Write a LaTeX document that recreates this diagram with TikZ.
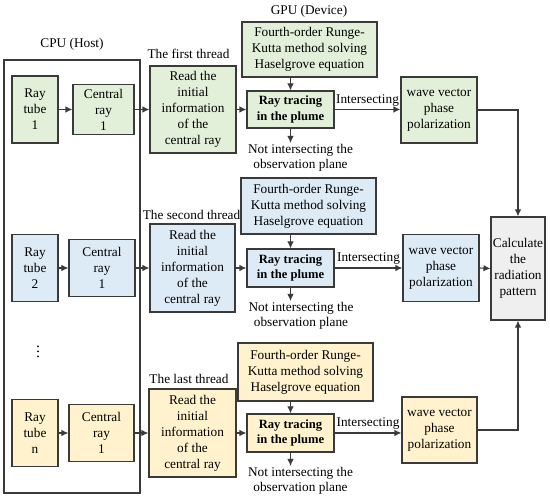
\documentclass[tikz,border=0pt]{standalone}
\usepackage{fontspec}
\setmainfont{Liberation Serif}
\usetikzlibrary{arrows.meta}
\definecolor{gfill}{HTML}{E2EFD9}
\definecolor{bfill}{HTML}{DDEBF7}
\definecolor{yfill}{HTML}{FFF2CC}
\definecolor{cfill}{HTML}{EFEFEF}
\definecolor{lc}{HTML}{3A3A3A}
\begin{document}
\begin{tikzpicture}[x=1pt,y=-1pt,
  box/.style={draw=lc, line width=1.1pt, rectangle, align=center, inner sep=1pt,
    font=\fontsize{13.3}{16}\selectfont},
  bbox/.style={box, font=\fontsize{12.6}{15.5}\selectfont\bfseries},
  arr/.style={draw=lc, line width=1.1pt, -{Latex[length=7pt,width=6.5pt]}},
  ln/.style={draw=lc, line width=1.1pt},
  lbl/.style={font=\fontsize{13.3}{15.5}\selectfont, align=center, inner sep=1pt}]
\useasboundingbox (0,0) rectangle (550,500);

% CPU box
\node[draw=lc, line width=1.1pt, minimum width=136pt, minimum height=433pt, inner sep=0pt] (cpu) at (72,276.5) {};
\node[lbl] (cputxt) at (72,44) {CPU (Host)};
\node[lbl] (gputxt) at (309,11) {GPU (Device)};
% vertical ellipsis
\foreach \yy in {346.5,351.5,356.5}{
  \fill[black] (38,\yy) circle (1pt);
}

% ---------- Row 1 (green) ----------
\node[box, fill=gfill, minimum width=46pt, minimum height=67pt] (rt1) at (35,109.5) {Ray\\tube\\1};
\node[box, fill=gfill, minimum width=61pt, minimum height=50pt] (cr1) at (103.5,109.5) {Central\\ray\\1};
\node[box, fill=gfill, minimum width=86pt, minimum height=87pt] (rd1) at (193,109.5) {Read the\\initial\\information\\of the\\central ray};
\node[lbl] (th1) at (188.5,54) {The first thread};
\node[box, fill=gfill, minimum width=135pt, minimum height=55pt] (fo1) at (309.5,49.5) {Fourth-order Runge-\\Kutta method solving\\Haselgrove equation};
\node[bbox, fill=gfill, minimum width=87pt, minimum height=37pt] (tr1) at (290.5,109.5) {Ray tracing\\in the plume};
\node[box, fill=gfill, minimum width=76pt, minimum height=66pt] (wv1) at (439,110) {wave vector\\phase\\polarization};
\node[lbl, anchor=north] (ni1) at (300.5,143) {Not intersecting the\\observation plane};

% ---------- Row 2 (blue) ----------
\node[box, fill=bfill, minimum width=46pt, minimum height=67pt] (rt2) at (35,268) {Ray\\tube\\2};
\node[box, fill=bfill, minimum width=66pt, minimum height=57pt] (cr2) at (102,268) {Central\\ray\\1};
\node[box, fill=bfill, minimum width=85pt, minimum height=88pt] (rd2) at (192.5,268) {Read the\\initial\\information\\of the\\central ray};
\node[lbl] (th2) at (191.5,215) {The second thread};
\node[box, fill=bfill, minimum width=135pt, minimum height=56pt] (fo2) at (308.5,206) {Fourth-order Runge-\\Kutta method solving\\Haselgrove equation};
\node[bbox, fill=bfill, minimum width=87pt, minimum height=38pt] (tr2) at (290.5,268) {Ray tracing\\in the plume};
\node[box, fill=bfill, minimum width=76pt, minimum height=67pt] (wv2) at (441,268) {wave vector\\phase\\polarization};
\node[lbl, anchor=north] (ni2) at (301,301) {Not intersecting the\\observation plane};

% ---------- Row 3 (yellow) ----------
\node[box, fill=yfill, minimum width=46pt, minimum height=67pt] (rt3) at (35,433) {Ray\\tube\\n};
\node[box, fill=yfill, minimum width=65pt, minimum height=57pt] (cr3) at (101.5,433) {Central\\ray\\1};
\node[box, fill=yfill, minimum width=87pt, minimum height=88pt] (rd3) at (192.5,433) {Read the\\initial\\information\\of the\\central ray};
\node[lbl] (th3) at (189,379) {The last thread};
\node[box, fill=yfill, minimum width=135pt, minimum height=58pt] (fo3) at (305.5,372) {Fourth-order Runge-\\Kutta method solving\\Haselgrove equation};
\node[bbox, fill=yfill, minimum width=87pt, minimum height=38pt] (tr3) at (290.5,433) {Ray tracing\\in the plume};
\node[box, fill=yfill, minimum width=75pt, minimum height=66pt] (wv3) at (439.5,430) {wave vector\\phase\\polarization};
\node[lbl, anchor=north] (ni3) at (300.5,466) {Not intersecting the\\observation plane};

% ---------- Calculate ----------
\node[box, fill=cfill, minimum width=54pt, minimum height=103pt] (calc) at (518,268.5) {Calculate\\the\\radiation\\pattern};

% ---------- Connectors ----------
\foreach \i in {1,2,3}{
  \draw[arr] (rt\i.east) -- (cr\i.west);
  \draw[arr] (cr\i.east) -- (rd\i.west);
  \draw[arr] (rd\i.east) -- (tr\i.west);
  \draw[arr] (fo\i.south -| tr\i.north) -- (tr\i.north);
  \draw[arr] (tr\i.south) -- (tr\i.south |- ni\i.north);
}
\draw[arr] (tr1.east) -- node[lbl, above=2pt] {Intersecting} (tr1.east -| wv1.west);
\draw[arr] (tr2.east) -- node[lbl, above=2pt] {Intersecting} (tr2.east -| wv2.west);
\draw[arr] (tr3.east) -- node[lbl, above=2pt] {Intersecting} (tr3.east -| wv3.west);
\draw[arr] (wv1.east) -| (calc.north);
\draw[arr] (wv2.east) -- (calc.west);
\draw[arr] (wv3.east) -| (calc.south);
\end{tikzpicture}
\end{document}
